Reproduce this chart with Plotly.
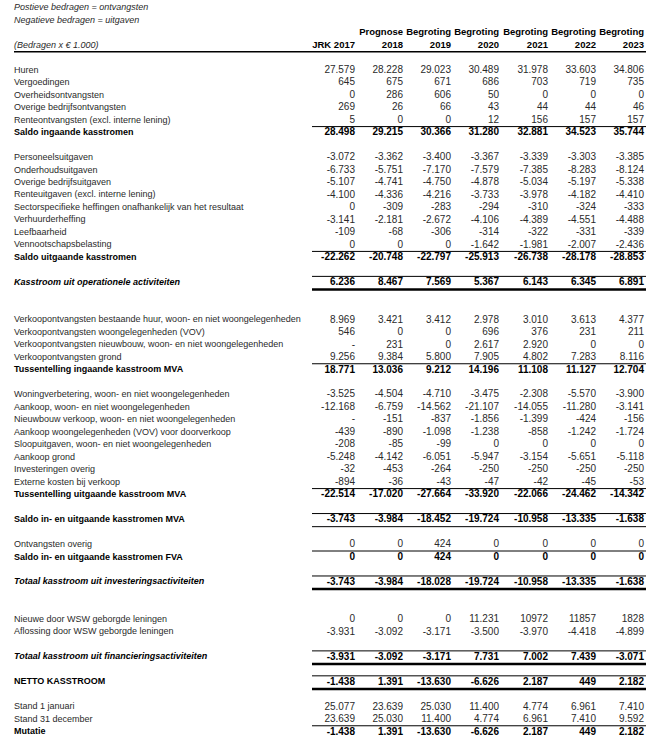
import plotly.graph_objects as go

# kolomkoppen
header_top = ["", "Prognose", "Begroting", "Begroting", "Begroting", "Begroting", "Begroting"]
header_bottom = ["JRK 2017", "2018", "2019", "2020", "2021", "2022", "2023"]

ingaand_labels = ["Huren", "Vergoedingen", "Overheidsontvangsten", "Overige bedrijfsontvangsten",
                  "Renteontvangsten (excl. interne lening)"]
ingaand_values = [
    [27579, 28228, 29023, 30489, 31978, 33603, 34806],
    [645, 675, 671, 686, 703, 719, 735],
    [0, 286, 606, 50, 0, 0, 0],
    [269, 26, 66, 43, 44, 44, 46],
    [5, 0, 0, 12, 156, 157, 157],
]
saldo_ingaand = [28498, 29215, 30366, 31280, 32881, 34523, 35744]

uitgaand_labels = ["Personeelsuitgaven", "Onderhoudsuitgaven", "Overige bedrijfsuitgaven",
                   "Renteuitgaven (excl. interne lening)",
                   "Sectorspecifieke heffingen onafhankelijk van het resultaat",
                   "Verhuurderheffing", "Leefbaarheid", "Vennootschapsbelasting"]
uitgaand_values = [
    [-3072, -3362, -3400, -3367, -3339, -3303, -3385],
    [-6733, -5751, -7170, -7579, -7385, -8283, -8124],
    [-5107, -4741, -4750, -4878, -5034, -5197, -5338],
    [-4100, -4336, -4216, -3733, -3978, -4182, -4410],
    [0, -309, -283, -294, -310, -324, -333],
    [-3141, -2181, -2672, -4106, -4389, -4551, -4488],
    [-109, -68, -306, -314, -322, -331, -339],
    [0, 0, 0, -1642, -1981, -2007, -2436],
]
saldo_uitgaand = [-22262, -20748, -22797, -25913, -26738, -28178, -28853]
kasstroom_operationeel = [6236, 8467, 7569, 5367, 6143, 6345, 6891]

mva_in_labels = ["Verkoopontvangsten bestaande huur, woon- en niet woongelegenheden",
                 "Verkoopontvangsten woongelegenheden (VOV)",
                 "Verkoopontvangsten nieuwbouw, woon- en niet woongelegenheden",
                 "Verkoopontvangsten grond"]
mva_in_values = [
    [8969, 3421, 3412, 2978, 3010, 3613, 4377],
    [546, 0, 0, 696, 376, 231, 211],
    [None, 231, 0, 2617, 2920, 0, 0],
    [9256, 9384, 5800, 7905, 4802, 7283, 8116],
]
tussentelling_in = [18771, 13036, 9212, 14196, 11108, 11127, 12704]

mva_uit_labels = ["Woningverbetering, woon- en niet woongelegenheden",
                  "Aankoop, woon- en niet woongelegenheden",
                  "Nieuwbouw verkoop, woon- en niet woongelegenheden",
                  "Aankoop woongelegenheden (VOV) voor doorverkoop",
                  "Sloopuitgaven, woon- en niet woongelegenheden",
                  "Aankoop grond", "Investeringen overig", "Externe kosten bij verkoop"]
mva_uit_values = [
    [-3525, -4504, -4710, -3475, -2308, -5570, -3900],
    [-12168, -6759, -14562, -21107, -14055, -11280, -3141],
    [None, -151, -837, -1856, -1399, -424, -156],
    [-439, -890, -1098, -1238, -858, -1242, -1724],
    [-208, -85, -99, 0, 0, 0, 0],
    [-5248, -4142, -6051, -5947, -3154, -5651, -5118],
    [-32, -453, -264, -250, -250, -250, -250],
    [-894, -36, -43, -47, -42, -45, -53],
]
tussentelling_uit = [-22514, -17020, -27664, -33920, -22066, -24462, -14342]
saldo_mva = [-3743, -3984, -18452, -19724, -10958, -13335, -1638]
ontvangsten_overig = [0, 0, 424, 0, 0, 0, 0]
saldo_fva = [0, 0, 424, 0, 0, 0, 0]
totaal_investering = [-3743, -3984, -18028, -19724, -10958, -13335, -1638]
wsw_nieuw = [0, 0, 0, 11231, "10972", "11857", "1828"]  # zo in het origineel (zonder punt)
wsw_aflossing = [-3931, -3092, -3171, -3500, -3970, -4418, -4899]
totaal_financiering = [-3931, -3092, -3171, 7731, 7002, 7439, -3071]
netto_kasstroom = [-1438, 1391, -13630, -6626, 2187, 449, 2182]
stand_begin = [25077, 23639, 25030, 11400, 4774, 6961, 7410]
stand_eind = [23639, 25030, 11400, 4774, 6961, 7410, 9592]
mutatie = [-1438, 1391, -13630, -6626, 2187, 449, 2182]


def fmt(v):
    if v is None:
        return "-"
    if isinstance(v, str):
        return v
    return f"{v:,}".replace(",", ".")


# rijen opbouwen: (label, waarden, stijl, lijn boven, lijn onder)
rows = []
slot = 0


def add(label, values, style="n", above=None, below=None):
    global slot
    rows.append(dict(label=label, values=values, style=style, slot=slot, above=above, below=below))
    slot += 1


def gap(n=1):
    global slot
    slot += n


for lab, vals in zip(ingaand_labels, ingaand_values):
    add(lab, vals)
add("Saldo ingaande kasstromen", saldo_ingaand, "b", "thin")
gap()
for lab, vals in zip(uitgaand_labels, uitgaand_values):
    add(lab, vals)
add("Saldo uitgaande kasstromen", saldo_uitgaand, "b", "thin")
gap()
add("Kasstroom uit operationele activiteiten", kasstroom_operationeel, "bi", "thin", "thick")
gap(2)
for lab, vals in zip(mva_in_labels, mva_in_values):
    add(lab, vals)
add("Tussentelling ingaande kasstroom MVA", tussentelling_in, "b", "thin")
gap()
for lab, vals in zip(mva_uit_labels, mva_uit_values):
    add(lab, vals)
add("Tussentelling uitgaande kasstroom MVA", tussentelling_uit, "b", "thin")
gap()
add("Saldo in- en uitgaande kasstromen MVA", saldo_mva, "b", "thin", "thin")
gap()
add("Ontvangsten overig", ontvangsten_overig)
add("Saldo in- en uitgaande kasstromen FVA", saldo_fva, "b", "thin")
gap()
add("Totaal kasstroom uit investeringsactiviteiten", totaal_investering, "bi", "thin", "thick")
gap(2)
add("Nieuwe door WSW geborgde leningen", wsw_nieuw)
add("Aflossing door WSW geborgde leningen", wsw_aflossing)
gap()
add("Totaal kasstroom uit financieringsactiviteiten", totaal_financiering, "bi", "thin", "thick")
gap()
add("NETTO KASSTROOM", netto_kasstroom, "b", "thin", "thick")
gap()
add("Stand 1 januari", stand_begin)
add("Stand 31 december", stand_eind)
add("Mutatie", mutatie, "b", "thin")

FONT = "Liberation Sans, Arial, sans-serif"
LABEL_SIZE = 9
NUM_SIZE = 10
HEAD_SIZE = 9.5
REG = "#2a2a2a"
BLK = "#000000"
label_x = 14
col_x = [355, 403, 451, 499, 548, 596, 644]
line_x0, line_x1 = 312, 646


def styled(t, s):
    if s == "b":
        return f"<b>{t}</b>"
    if s == "bi":
        return f"<b><i>{t}</i></b>"
    return t


slots = [r["slot"] for r in rows]
colors = [REG if r["style"] == "n" else BLK for r in rows]

fig = go.Figure()

# labels
fig.add_trace(go.Scatter(
    x=[label_x] * len(rows), y=slots, mode="text",
    text=[styled(r["label"], r["style"]) for r in rows],
    textposition="middle right",
    textfont=dict(family=FONT, size=LABEL_SIZE, color=colors),
    hoverinfo="skip", showlegend=False,
))

# waarden per kolom
for i, cx in enumerate(col_x):
    fig.add_trace(go.Scatter(
        x=[cx] * len(rows), y=slots, mode="text",
        text=[styled(fmt(r["values"][i]), r["style"][:1]) for r in rows],
        textposition="middle left",
        textfont=dict(family=FONT, size=NUM_SIZE, color=colors),
        hoverinfo="skip", showlegend=False,
    ))

# koppen
fig.add_trace(go.Scatter(
    x=[label_x, label_x, label_x], y=[-5, -4, -2], mode="text",
    text=["<i>Postieve bedragen = ontvangsten</i>", "<i>Negatieve bedragen = uitgaven</i>",
          "<i>(Bedragen x € 1.000)</i>"],
    textposition="middle right",
    textfont=dict(family=FONT, size=LABEL_SIZE, color=REG),
    hoverinfo="skip", showlegend=False,
))
fig.add_trace(go.Scatter(
    x=col_x + col_x, y=[-3] * 7 + [-2] * 7, mode="text",
    text=[f"<b>{t}</b>" for t in header_top + header_bottom],
    textposition="middle left",
    textfont=dict(family=FONT, size=HEAD_SIZE, color=BLK),
    hoverinfo="skip", showlegend=False,
))

# lijnen
shapes = [dict(type="line", xref="x", yref="y", x0=label_x, x1=line_x1, y0=-1.5, y1=-1.5,
               line=dict(color=BLK, width=1.5))]
for r in rows:
    if r["above"]:
        shapes.append(dict(type="line", xref="x", yref="y", x0=line_x0, x1=line_x1,
                           y0=r["slot"] - 0.5, y1=r["slot"] - 0.5,
                           line=dict(color=BLK, width=1)))
    if r["below"]:
        w = 2.5 if r["below"] == "thick" else 1
        shapes.append(dict(type="line", xref="x", yref="y", x0=line_x0, x1=line_x1,
                           y0=r["slot"] + 0.55, y1=r["slot"] + 0.55,
                           line=dict(color=BLK, width=w)))

fig.update_layout(
    width=658, height=744,
    margin=dict(l=0, r=0, t=0, b=0),
    paper_bgcolor="white", plot_bgcolor="white",
    shapes=shapes,
    xaxis=dict(range=[0, 658], visible=False, fixedrange=True),
    yaxis=dict(range=[53.96, -5.64], visible=False, fixedrange=True),
)

# body-marge van de pagina weghalen zodat de figuur op (0, 0) staat
fig.write_html("out.html", config={"displayModeBar": False},
               post_script="document.body.style.margin='0';")
